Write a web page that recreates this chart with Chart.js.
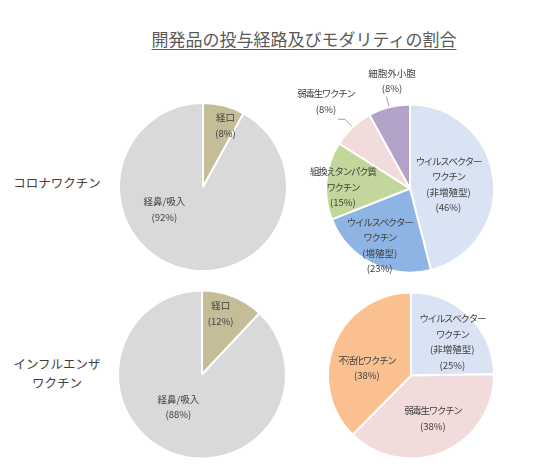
<!DOCTYPE html>
<html><head><meta charset="utf-8">
<script src="https://cdn.jsdelivr.net/npm/chart.js@4.4.1/dist/chart.umd.min.js"></script>
<style>
html,body{margin:0;padding:0;background:#fff;width:544px;height:468px;overflow:hidden;}
#wrap{position:relative;width:544px;height:468px;}
canvas{position:absolute;left:0;top:0;}
.t{position:absolute;font-family:"Noto Sans CJK JP";color:#404040;white-space:nowrap;text-align:center;}
</style></head><body>
<div id="wrap">
<div class="t" style="left:0;width:608px;top:27px;font-size:17px;line-height:24px;color:#595959;text-decoration:underline;text-underline-offset:3px;">開発品の投与経路及びモダリティの割合</div>
<div class="t" style="left:0;width:114px;top:174px;font-size:12.5px;line-height:18px;">コロナワクチン</div>
<div class="t" style="left:0;width:114px;top:354px;font-size:12.5px;line-height:19px;">インフルエンザ<br>ワクチン</div>
<canvas id="c1" width="544" height="468"></canvas>
<canvas id="c2" width="544" height="468"></canvas>
<canvas id="c3" width="544" height="468"></canvas>
<canvas id="c4" width="544" height="468"></canvas>
</div>
<script>
// ---- data ----
const covidRouteLabels = ['経口', '経鼻/吸入'];
const covidRouteValues = [8, 92];
const covidModalityLabels = ['ウイルスベクター\nワクチン\n(非増殖型)', 'ウイルスベクター\nワクチン\n(増殖型)', '組換えタンパク質\nワクチン', '弱毒生ワクチン', '細胞外小胞'];
const covidModalityValues = [46, 23, 15, 8, 8];
const fluRouteLabels = ['経口', '経鼻/吸入'];
const fluRouteValues = [12, 88];
const fluModalityLabels = ['ウイルスベクター\nワクチン\n(非増殖型)', '弱毒生ワクチン', '不活化ワクチン'];
const fluModalityValues = [25, 38, 38];

// ---- styles ----
const routeColors = ['#c4bd97', '#d9d9d9'];
const covidModColors = ['#dae3f3', '#8eb4e3', '#c3d69b', '#f2dcdb', '#b3a2c7'];
const fluModColors = ['#dae3f3', '#f2dcdb', '#fac090'];

const W = 544, H = 468;
const LINE = 15.5;

const sliceLabels = {
  id: 'sliceLabels',
  afterDatasetsDraw(chart, args, opts) {
    const ctx = chart.ctx;
    const meta = chart.getDatasetMeta(0);
    const ds = chart.data.datasets[0];
    ctx.save();
    ctx.font = '9.5px "Noto Sans CJK JP"';
    ctx.fillStyle = '#404040';
    ctx.textAlign = 'center';
    ctx.textBaseline = 'middle';
    meta.data.forEach((arc, i) => {
      const p = opts.place[i];
      const {x, y, outerRadius, startAngle, endAngle} = arc.getProps(['x', 'y', 'outerRadius', 'startAngle', 'endAngle'], true);
      const ang = (p.a - 90) * Math.PI / 180;
      const d = p.r * outerRadius;
      const lx = x + Math.cos(ang) * d, ly = y + Math.sin(ang) * d;
      const lines = chart.data.labels[i].split('\n').concat(['(' + ds.data[i] + '%)']);
      const y0 = ly - (lines.length - 1) * LINE / 2;
      lines.forEach((t, k) => {
        ctx.letterSpacing = /[\u30A0-\u30FF]/.test(t) ? '-1.3px' : '0px';
        ctx.fillText(t, lx, y0 + k * LINE);
      });
      if (p.leader) {
        const mid = (startAngle + endAngle) / 2;
        const ex = x + Math.cos(mid) * outerRadius * 1.01, ey = y + Math.sin(mid) * outerRadius * 1.01;
        const bx = x + Math.cos(mid) * outerRadius * 1.13, by = y + Math.sin(mid) * outerRadius * 1.13;
        ctx.beginPath();
        ctx.strokeStyle = '#a6a6a6';
        ctx.lineWidth = 1;
        ctx.moveTo(ex, ey);
        ctx.lineTo(bx, by);
        if (p.leader > 0) ctx.lineTo(bx - p.leader, by);
        ctx.stroke();
      }
    });
    ctx.restore();
  }
};

function makePie(id, labels, values, colors, cx, cy, R, place) {
  new Chart(document.getElementById(id), {
    type: 'pie',
    data: {labels: labels, datasets: [{data: values, backgroundColor: colors, borderColor: '#ffffff', borderWidth: 2}]},
    options: {
      responsive: false,
      animation: false,
      radius: R,
      layout: {padding: {left: cx - R, right: W - cx - R, top: cy - R, bottom: H - cy - R}},
      plugins: {legend: {display: false}, tooltip: {enabled: false}, sliceLabels: {place: place}},
      events: []
    },
    plugins: [sliceLabels]
  });
}

makePie('c1', covidRouteLabels, covidRouteValues, routeColors, 203, 187, 84,
  [{a: 20, r: 0.78}, {a: 240, r: 0.53}]);
makePie('c2', covidModalityLabels, covidModalityValues, covidModColors, 410, 188.5, 84,
  [{a: 84, r: 0.46}, {a: 208, r: 0.77}, {a: 271, r: 0.8}, {a: 316, r: 1.44, leader: 7}, {a: 350.5, r: 1.3, leader: -1}]);
makePie('c3', fluRouteLabels, fluRouteValues, routeColors, 202, 374.5, 84,
  [{a: 17, r: 0.76}, {a: 216, r: 0.48}]);
makePie('c4', fluModalityLabels, fluModalityValues, fluModColors, 411, 375.5, 83,
  [{a: 51, r: 0.64}, {a: 153, r: 0.58}, {a: 280, r: 0.54}]);
</script>
</body></html>
